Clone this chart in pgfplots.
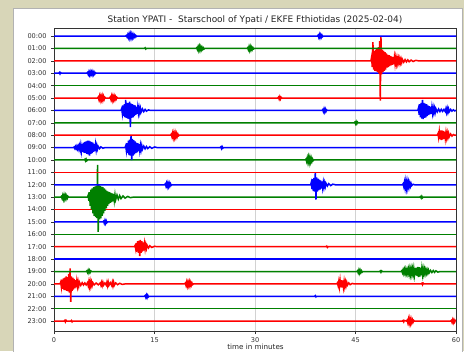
\documentclass[border=0pt]{standalone}
\usepackage{pgfplots}
\pgfplotsset{compat=1.18}
\usepackage{fontspec}
\setmainfont{DejaVu Sans}
\definecolor{bgbeige}{RGB}{216,214,184}
\definecolor{mplgreen}{RGB}{0,128,0}
\definecolor{mplblue}{RGB}{0,0,255}
\definecolor{mplred}{RGB}{255,0,0}
\pgfplotsset{trace/.style={line width=1.5bp}}
\begin{document}
\begin{tikzpicture}[x=1bp,y=1bp]
\useasboundingbox (0,0) rectangle (464,351);
\fill[bgbeige] (0,0) rectangle (464,351);
\filldraw[fill=white, draw=gray!60, line width=0.8bp] (13.5,-5) rectangle (462,343);
\begin{axis}[
  at={(54bp,20bp)}, anchor=south west,
  width=402bp, height=303bp, scale only axis,
  xmin=0, xmax=60, ymin=-0.65, ymax=23.8, y dir=reverse,
  xtick={0,15,30,45,60},
  ytick={0,...,23},
  yticklabels={00:00,01:00,02:00,03:00,04:00,05:00,06:00,07:00,08:00,09:00,10:00,11:00,12:00,13:00,14:00,15:00,16:00,17:00,18:00,19:00,20:00,21:00,22:00,23:00},
  tick pos=left, tick align=outside, major tick length=3bp,
  /pgf/number format/assume math mode=true,
  tick label style={font=\fontsize{6.6}{8}\selectfont, text=black!80},
  yticklabel style={xshift=-1bp},
  xmajorgrids, ymajorgrids=false,
  major grid style={gray!35, line width=0.7bp},
  axis line style={black!80, line width=0.7bp},
  every tick/.style={black!80, line width=0.6bp},
  clip=true,
]
% ---------- row 23 (red)
\addplot[mplred, trace] table[row sep=\\, x=t, y expr=23-\thisrow{a}] {t a\\ 0 0\\ 1.5 0\\ 1.6 0.05\\ 1.7 -0.07\\ 1.8 0.06\\ 1.9 0\\ 2.5 0\\ 2.6 0.05\\ 2.7 -0.06\\ 2.8 0\\ 52.0 0\\ 52.1 0.05\\ 52.2 -0.06\\ 52.3 0.05\\ 52.6 0\\ 52.7 0.08\\ 52.8 -0.13\\ 52.9 0.16\\ 53.0 -0.18\\ 53.1 0.18\\ 53.2 -0.17\\ 53.3 0.15\\ 53.4 -0.13\\ 53.5 0.1\\ 53.6 -0.08\\ 53.7 0.05\\ 53.8 0\\ 59.2 0\\ 59.3 0.06\\ 59.4 -0.1\\ 59.5 0.11\\ 59.6 -0.11\\ 59.7 0.1\\ 59.8 -0.08\\ 59.9 0.05\\ 60 0\\};
% ---------- row 22 (green)
\addplot[mplgreen, trace] coordinates {(0,22) (60,22)};
% ---------- row 21 (blue)
\addplot[mplblue, trace] table[row sep=\\, x=t, y expr=21-\thisrow{a}] {t a\\ 0 0\\ 13.5 0\\ 13.6 0.06\\ 13.7 -0.09\\ 13.8 0.1\\ 13.9 -0.1\\ 14.0 0.08\\ 14.1 -0.05\\ 14.2 0\\ 38.9 0\\ 39.0 0.05\\ 39.1 -0.05\\ 39.2 0\\ 60 0\\};
% ---------- row 20 (red)
\addplot[mplred, trace] table[row sep=\\, x=t, y expr=20-\thisrow{a}] {t a\\ 0 0\\ 0.9 0\\ 1.0 0.15\\ 1.1 -0.25\\ 1.2 0.35\\ 1.3 -0.4\\ 1.4 0.45\\ 1.5 -0.5\\ 1.6 0.5\\ 1.7 -0.5\\ 1.8 0.6\\ 1.9 -0.55\\ 2.0 0.55\\ 2.1 -0.6\\ 2.2 0.8\\ 2.3 -0.7\\ 2.4 1.25\\ 2.5 -1.45\\ 2.6 0.6\\ 2.7 -0.55\\ 2.8 0.5\\ 2.9 -0.45\\ 3.0 0.4\\ 3.1 -0.35\\ 3.2 0.3\\ 3.3 -0.27\\ 3.4 0.24\\ 3.5 -0.2\\ 3.6 0.18\\ 3.7 -0.16\\ 3.8 0.14\\ 4.0 -0.12\\ 4.2 0.1\\ 4.4 -0.09\\ 4.6 0.08\\ 4.8 -0.08\\ 5.0 0.1\\ 5.1 -0.14\\ 5.2 0.18\\ 5.3 -0.2\\ 5.4 0.2\\ 5.5 -0.18\\ 5.6 0.15\\ 5.7 -0.12\\ 5.8 0.1\\ 6.0 -0.08\\ 6.3 0.07\\ 6.6 -0.07\\ 6.9 0.08\\ 7.0 -0.1\\ 7.1 0.12\\ 7.2 -0.13\\ 7.3 0.12\\ 7.4 -0.1\\ 7.6 0.08\\ 7.8 -0.1\\ 7.9 0.14\\ 8.0 -0.15\\ 8.1 0.14\\ 8.2 -0.12\\ 8.4 0.1\\ 8.6 -0.12\\ 8.7 0.14\\ 8.8 -0.15\\ 8.9 0.14\\ 9.0 -0.12\\ 9.2 0.08\\ 9.5 -0.06\\ 9.8 0.05\\ 10.2 -0.04\\ 10.6 0\\ 19.5 0\\ 19.6 0.07\\ 19.7 -0.12\\ 19.8 0.15\\ 19.9 -0.16\\ 20.0 0.15\\ 20.1 -0.13\\ 20.2 0.16\\ 20.3 -0.15\\ 20.4 0.12\\ 20.5 -0.1\\ 20.6 0.07\\ 20.7 -0.05\\ 20.8 0\\ 42.2 0\\ 42.3 0.08\\ 42.4 -0.14\\ 42.5 0.2\\ 42.6 -0.24\\ 42.7 0.27\\ 42.8 -0.28\\ 42.9 0.3\\ 43.0 -0.3\\ 43.1 0.28\\ 43.2 -0.25\\ 43.3 0.22\\ 43.4 -0.2\\ 43.5 0.17\\ 43.6 -0.14\\ 43.7 0.12\\ 43.8 -0.1\\ 44.0 0.08\\ 44.2 -0.06\\ 44.5 0.04\\ 44.8 0\\ 54.8 0\\ 54.9 0.05\\ 55.0 -0.07\\ 55.1 0.06\\ 55.2 0\\ 60 0\\};
% ---------- row 19 (green)
\addplot[mplgreen, trace] table[row sep=\\, x=t, y expr=19-\thisrow{a}] {t a\\ 0 0\\ 4.8 0\\ 4.9 0.05\\ 5.0 -0.08\\ 5.1 0.1\\ 5.2 -0.1\\ 5.3 0.09\\ 5.4 -0.07\\ 5.5 0.05\\ 5.6 0\\ 45.2 0\\ 45.3 0.06\\ 45.4 -0.1\\ 45.5 0.12\\ 45.6 -0.12\\ 45.7 0.1\\ 45.8 -0.08\\ 45.9 0.06\\ 46.0 -0.05\\ 46.1 0\\ 48.6 0\\ 48.7 0.05\\ 48.8 -0.06\\ 48.9 0.05\\ 49.0 0\\ 51.8 0\\ 51.9 0.06\\ 52.0 -0.1\\ 52.1 0.12\\ 52.2 -0.14\\ 52.3 0.15\\ 52.4 -0.16\\ 52.5 0.16\\ 52.6 -0.15\\ 52.7 0.14\\ 52.8 -0.16\\ 52.9 0.18\\ 53.0 -0.2\\ 53.1 0.2\\ 53.2 -0.22\\ 53.3 0.22\\ 53.4 -0.2\\ 53.5 0.2\\ 53.6 -0.22\\ 53.7 0.24\\ 53.8 -0.26\\ 53.9 0.28\\ 54.0 -0.3\\ 54.1 0.3\\ 54.2 -0.35\\ 54.3 0.38\\ 54.4 -0.45\\ 54.5 0.35\\ 54.6 -0.4\\ 54.7 0.3\\ 54.8 -0.3\\ 54.9 0.25\\ 55.0 -0.25\\ 55.1 0.2\\ 55.2 -0.2\\ 55.3 0.17\\ 55.4 -0.16\\ 55.5 0.14\\ 55.6 -0.13\\ 55.7 0.12\\ 55.8 -0.12\\ 55.9 0.1\\ 56.0 -0.1\\ 56.2 0.09\\ 56.4 -0.08\\ 56.6 0.08\\ 56.8 -0.07\\ 57.0 0.06\\ 57.3 -0.05\\ 57.6 0\\ 60 0\\};
% ---------- row 18 (blue)
\addplot[mplblue, trace] coordinates {(0,18) (60,18)};
% ---------- row 17 (red)
\addplot[mplred, trace] table[row sep=\\, x=t, y expr=17-\thisrow{a}] {t a\\ 0 0\\ 12.0 0\\ 12.1 0.1\\ 12.2 -0.2\\ 12.3 0.3\\ 12.4 -0.4\\ 12.5 0.45\\ 12.6 -0.5\\ 12.7 0.5\\ 12.8 -0.75\\ 12.9 0.55\\ 13.0 -0.5\\ 13.1 0.45\\ 13.2 -0.4\\ 13.3 0.35\\ 13.4 -0.3\\ 13.5 0.25\\ 13.6 -0.2\\ 13.7 0.17\\ 13.8 -0.14\\ 13.9 0.12\\ 14.1 -0.1\\ 14.3 0.08\\ 14.6 -0.06\\ 15.0 0.04\\ 15.4 0\\ 40.6 0\\ 40.7 0.05\\ 40.8 -0.06\\ 40.9 0\\ 60 0\\};
% ---------- row 16 (green)
\addplot[mplgreen, trace] coordinates {(0,16) (60,16)};
% ---------- row 15 (blue)
\addplot[mplblue, trace] table[row sep=\\, x=t, y expr=15-\thisrow{a}] {t a\\ 0 0\\ 7.3 0\\ 7.4 0.06\\ 7.5 -0.1\\ 7.6 0.12\\ 7.7 -0.11\\ 7.8 0.09\\ 7.9 -0.06\\ 8.0 0\\ 60 0\\};
% ---------- row 14 (red)
\addplot[mplred, trace] coordinates {(0,14) (60,14)};
% ---------- row 13 (green)
\addplot[mplgreen, trace] table[row sep=\\, x=t, y expr=13-\thisrow{a}] {t a\\ 0 0\\ 1.0 0\\ 1.1 0.06\\ 1.2 -0.1\\ 1.3 0.13\\ 1.4 -0.15\\ 1.5 0.15\\ 1.6 -0.14\\ 1.7 0.13\\ 1.8 -0.12\\ 1.9 0.1\\ 2.0 -0.08\\ 2.1 0.06\\ 2.2 0\\ 5.0 0\\ 5.1 0.15\\ 5.2 -0.3\\ 5.3 0.4\\ 5.4 -0.7\\ 5.5 0.6\\ 5.6 -1.0\\ 5.7 0.7\\ 5.8 -1.3\\ 5.9 0.8\\ 6.0 -1.5\\ 6.1 0.85\\ 6.2 -1.6\\ 6.3 0.9\\ 6.4 -1.7\\ 6.5 2.6\\ 6.6 -2.8\\ 6.7 1.0\\ 6.8 -1.8\\ 6.9 0.9\\ 7.0 -1.7\\ 7.1 0.85\\ 7.2 -1.5\\ 7.3 0.8\\ 7.4 -1.3\\ 7.5 0.7\\ 7.6 -1.1\\ 7.7 0.6\\ 7.8 -0.9\\ 7.9 0.5\\ 8.0 -0.7\\ 8.1 0.45\\ 8.2 -0.55\\ 8.3 0.4\\ 8.4 -0.45\\ 8.5 0.35\\ 8.6 -0.4\\ 8.7 0.3\\ 8.8 -0.33\\ 8.9 0.25\\ 9.0 -0.27\\ 9.1 0.2\\ 9.2 -0.22\\ 9.4 0.17\\ 9.6 -0.16\\ 9.8 0.13\\ 10.0 -0.12\\ 10.3 0.1\\ 10.6 -0.08\\ 11.0 0.06\\ 11.4 -0.04\\ 11.8 0\\ 54.6 0\\ 54.7 0.05\\ 54.8 -0.07\\ 54.9 0.07\\ 55.0 -0.05\\ 55.1 0\\ 60 0\\};
% ---------- row 12 (blue)
\addplot[mplblue, trace] table[row sep=\\, x=t, y expr=12-\thisrow{a}] {t a\\ 0 0\\ 16.5 0\\ 16.6 0.07\\ 16.7 -0.1\\ 16.8 0.13\\ 16.9 -0.14\\ 17.0 0.14\\ 17.1 -0.13\\ 17.2 0.12\\ 17.3 -0.1\\ 17.4 0.08\\ 17.5 -0.05\\ 17.6 0\\ 38.3 0\\ 38.4 0.2\\ 38.5 -0.35\\ 38.6 0.45\\ 38.7 -0.5\\ 38.8 0.55\\ 38.9 -0.55\\ 39.0 1.0\\ 39.1 -1.2\\ 39.2 0.6\\ 39.3 -0.55\\ 39.4 0.5\\ 39.5 -0.45\\ 39.6 0.42\\ 39.7 -0.38\\ 39.8 0.35\\ 39.9 -0.3\\ 40.0 0.27\\ 40.1 -0.24\\ 40.2 0.2\\ 40.3 -0.18\\ 40.4 0.16\\ 40.5 -0.14\\ 40.6 0.12\\ 40.8 -0.1\\ 41.0 0.09\\ 41.3 -0.07\\ 41.6 0.05\\ 42.0 0\\ 52.0 0\\ 52.1 0.08\\ 52.2 -0.14\\ 52.3 0.2\\ 52.4 -0.24\\ 52.5 0.26\\ 52.6 -0.25\\ 52.7 0.24\\ 52.8 -0.22\\ 52.9 0.2\\ 53.0 -0.17\\ 53.1 0.14\\ 53.2 -0.12\\ 53.3 0.1\\ 53.4 -0.07\\ 53.6 0.04\\ 53.8 0\\ 60 0\\};
% ---------- row 11 (red)
\addplot[mplred, trace] coordinates {(0,11) (60,11)};
% ---------- row 10 (green)
\addplot[mplgreen, trace] table[row sep=\\, x=t, y expr=10-\thisrow{a}] {t a\\ 0 0\\ 4.5 0\\ 4.6 0.05\\ 4.7 -0.07\\ 4.8 0.07\\ 4.9 -0.06\\ 5.0 0\\ 37.5 0\\ 37.6 0.07\\ 37.7 -0.12\\ 37.8 0.16\\ 37.9 -0.18\\ 38.0 0.2\\ 38.1 -0.19\\ 38.2 0.18\\ 38.3 -0.16\\ 38.4 0.14\\ 38.5 -0.11\\ 38.6 0.08\\ 38.7 -0.05\\ 38.8 0\\ 60 0\\};
% ---------- row 09 (blue)
\addplot[mplblue, trace] table[row sep=\\, x=t, y expr=9-\thisrow{a}] {t a\\ 0 0\\ 2.9 0\\ 3.0 0.05\\ 3.1 -0.07\\ 3.2 0.08\\ 3.3 -0.08\\ 3.4 0.1\\ 3.5 -0.1\\ 3.6 0.12\\ 3.7 -0.12\\ 3.8 0.15\\ 3.9 -0.18\\ 4.0 0.22\\ 4.1 -0.25\\ 4.2 0.3\\ 4.3 -0.35\\ 4.4 0.4\\ 4.5 -0.42\\ 4.6 0.45\\ 4.7 -0.45\\ 4.8 0.5\\ 4.9 -0.5\\ 5.0 0.55\\ 5.1 -0.55\\ 5.2 0.55\\ 5.3 -0.65\\ 5.4 0.5\\ 5.5 -0.5\\ 5.6 0.45\\ 5.7 -0.45\\ 5.8 0.4\\ 5.9 -0.35\\ 6.0 0.3\\ 6.1 -0.28\\ 6.2 0.25\\ 6.3 -0.2\\ 6.4 0.16\\ 6.5 -0.12\\ 6.6 0.1\\ 6.8 -0.08\\ 7.0 0.06\\ 7.3 -0.05\\ 7.6 0\\ 10.6 0\\ 10.7 0.15\\ 10.8 -0.25\\ 10.9 0.35\\ 11.0 -0.45\\ 11.1 0.55\\ 11.2 -0.6\\ 11.3 0.65\\ 11.4 -0.65\\ 11.5 1.0\\ 11.6 -1.0\\ 11.7 0.7\\ 11.8 -0.65\\ 11.9 0.6\\ 12.0 -0.55\\ 12.1 0.5\\ 12.2 -0.45\\ 12.3 0.4\\ 12.4 -0.38\\ 12.5 0.35\\ 12.6 -0.3\\ 12.7 0.27\\ 12.8 -0.24\\ 12.9 0.2\\ 13.0 -0.18\\ 13.1 0.16\\ 13.2 -0.14\\ 13.4 0.12\\ 13.6 -0.1\\ 13.8 0.09\\ 14.0 -0.08\\ 14.3 0.07\\ 14.6 -0.06\\ 15.0 0.05\\ 15.4 0\\ 24.8 0\\ 24.9 0.06\\ 25.0 -0.08\\ 25.1 0.07\\ 25.2 -0.05\\ 25.3 0\\ 60 0\\};
% ---------- row 08 (red)
\addplot[mplred, trace] table[row sep=\\, x=t, y expr=8-\thisrow{a}] {t a\\ 0 0\\ 17.4 0\\ 17.5 0.08\\ 17.6 -0.12\\ 17.7 0.16\\ 17.8 -0.18\\ 17.9 0.18\\ 18.0 -0.17\\ 18.1 0.16\\ 18.2 -0.15\\ 18.3 0.13\\ 18.4 -0.1\\ 18.5 0.08\\ 18.6 -0.05\\ 18.7 0\\ 57.2 0\\ 57.3 0.12\\ 57.4 -0.2\\ 57.5 0.28\\ 57.6 -0.32\\ 57.7 0.38\\ 57.8 -0.4\\ 57.9 0.38\\ 58.0 -0.36\\ 58.1 0.34\\ 58.2 -0.3\\ 58.3 0.28\\ 58.4 -0.25\\ 58.5 0.22\\ 58.6 -0.2\\ 58.7 0.18\\ 58.8 -0.16\\ 58.9 0.14\\ 59.0 -0.12\\ 59.2 0.1\\ 59.4 -0.07\\ 59.6 0.05\\ 59.8 0\\ 60 0\\};
% ---------- row 07 (green)
\addplot[mplgreen, trace] table[row sep=\\, x=t, y expr=7-\thisrow{a}] {t a\\ 0 0\\ 44.8 0\\ 44.9 0.05\\ 45.0 -0.08\\ 45.1 0.09\\ 45.2 -0.08\\ 45.3 0.06\\ 45.4 0\\ 60 0\\};
% ---------- row 06 (blue)
\addplot[mplblue, trace] table[row sep=\\, x=t, y expr=6-\thisrow{a}] {t a\\ 0 0\\ 10.0 0\\ 10.1 0.15\\ 10.2 -0.25\\ 10.3 0.4\\ 10.4 -0.45\\ 10.5 0.5\\ 10.6 -0.55\\ 10.7 0.85\\ 10.8 -0.6\\ 10.9 0.6\\ 11.0 -0.65\\ 11.1 0.6\\ 11.2 -0.7\\ 11.3 0.7\\ 11.4 -1.35\\ 11.5 0.55\\ 11.6 -0.6\\ 11.7 0.5\\ 11.8 -0.55\\ 11.9 0.45\\ 12.0 -0.45\\ 12.1 0.4\\ 12.2 -0.35\\ 12.3 0.3\\ 12.4 -0.28\\ 12.5 0.25\\ 12.6 -0.22\\ 12.7 0.2\\ 12.8 -0.18\\ 12.9 0.16\\ 13.0 -0.14\\ 13.2 0.12\\ 13.4 -0.1\\ 13.6 0.08\\ 13.8 -0.06\\ 14.1 0.04\\ 14.4 0\\ 40.0 0\\ 40.1 0.06\\ 40.2 -0.1\\ 40.3 0.12\\ 40.4 -0.12\\ 40.5 0.1\\ 40.6 -0.08\\ 40.7 0.05\\ 40.8 0\\ 54.3 0\\ 54.4 0.2\\ 54.5 -0.35\\ 54.6 0.5\\ 54.7 -0.55\\ 54.8 0.6\\ 54.9 -0.65\\ 55.0 0.85\\ 55.1 -0.7\\ 55.2 0.6\\ 55.3 -0.6\\ 55.4 0.55\\ 55.5 -0.55\\ 55.6 0.5\\ 55.7 -0.45\\ 55.8 0.4\\ 55.9 -0.38\\ 56.0 0.35\\ 56.1 -0.32\\ 56.2 0.3\\ 56.3 -0.27\\ 56.4 0.25\\ 56.5 -0.22\\ 56.6 0.2\\ 56.7 -0.18\\ 56.8 0.17\\ 56.9 -0.15\\ 57.0 0.14\\ 57.2 -0.12\\ 57.4 0.11\\ 57.6 -0.1\\ 57.8 0.09\\ 58.0 -0.08\\ 58.2 0.08\\ 58.4 -0.1\\ 58.5 0.14\\ 58.6 -0.16\\ 58.7 0.15\\ 58.8 -0.14\\ 58.9 0.12\\ 59.0 -0.1\\ 59.2 0.08\\ 59.4 -0.06\\ 59.6 0.05\\ 59.8 -0.04\\ 60 0\\};
% ---------- row 05 (red)
\addplot[mplred, trace] table[row sep=\\, x=t, y expr=5-\thisrow{a}] {t a\\ 0 0\\ 6.5 0\\ 6.6 0.08\\ 6.7 -0.12\\ 6.8 0.15\\ 6.9 -0.16\\ 7.0 0.15\\ 7.1 -0.14\\ 7.2 0.16\\ 7.3 -0.15\\ 7.4 0.12\\ 7.5 -0.1\\ 7.6 0.06\\ 7.7 0\\ 8.3 0\\ 8.4 0.08\\ 8.5 -0.12\\ 8.6 0.15\\ 8.7 -0.16\\ 8.8 0.15\\ 8.9 -0.14\\ 9.0 0.13\\ 9.1 -0.12\\ 9.2 0.1\\ 9.3 -0.08\\ 9.4 0.05\\ 9.5 0\\ 33.4 0\\ 33.5 0.07\\ 33.6 -0.09\\ 33.7 0.1\\ 33.8 -0.08\\ 33.9 0.06\\ 34.0 0\\ 60 0\\};
% ---------- row 04 (green)
\addplot[mplgreen, trace] coordinates {(0,4) (60,4)};
% ---------- row 03 (blue)
\addplot[mplblue, trace] table[row sep=\\, x=t, y expr=3-\thisrow{a}] {t a\\ 0 0\\ 0.7 0\\ 0.8 0.06\\ 0.9 -0.06\\ 1.0 0.05\\ 1.1 0\\ 4.9 0\\ 5.0 0.06\\ 5.1 -0.09\\ 5.2 0.11\\ 5.3 -0.12\\ 5.4 0.12\\ 5.5 -0.11\\ 5.6 0.1\\ 5.7 -0.11\\ 5.8 0.12\\ 5.9 -0.1\\ 6.0 0.08\\ 6.1 -0.06\\ 6.2 0.04\\ 6.3 0\\ 60 0\\};
% ---------- row 02 (red)
\addplot[mplred, trace] table[row sep=\\, x=t, y expr=2-\thisrow{a}] {t a\\ 0 0\\ 47.3 0\\ 47.4 0.3\\ 47.5 -0.5\\ 47.6 1.5\\ 47.7 -0.7\\ 47.8 0.8\\ 47.9 -0.8\\ 48.0 0.9\\ 48.1 -0.85\\ 48.2 0.95\\ 48.3 -0.9\\ 48.4 1.1\\ 48.5 -1.0\\ 48.6 1.6\\ 48.7 -3.2\\ 48.8 1.95\\ 48.9 -1.1\\ 49.0 0.9\\ 49.1 -0.9\\ 49.2 0.8\\ 49.3 -0.8\\ 49.4 0.7\\ 49.5 -0.7\\ 49.6 0.6\\ 49.7 -0.55\\ 49.8 0.5\\ 49.9 -0.5\\ 50.0 0.45\\ 50.1 -0.42\\ 50.2 0.4\\ 50.3 -0.37\\ 50.4 0.35\\ 50.5 -0.32\\ 50.6 0.3\\ 50.7 -0.28\\ 50.8 0.27\\ 50.9 -0.25\\ 51.0 0.24\\ 51.1 -0.22\\ 51.2 0.2\\ 51.3 -0.19\\ 51.4 0.18\\ 51.5 -0.17\\ 51.6 0.16\\ 51.7 -0.15\\ 51.8 0.14\\ 51.9 -0.13\\ 52.0 0.12\\ 52.2 -0.11\\ 52.4 0.1\\ 52.6 -0.09\\ 52.8 0.08\\ 53.0 -0.07\\ 53.3 0.06\\ 53.6 -0.05\\ 54.0 0.04\\ 54.4 0\\ 60 0\\};
% ---------- row 01 (green)
\addplot[mplgreen, trace] table[row sep=\\, x=t, y expr=1-\thisrow{a}] {t a\\ 0 0\\ 13.5 0\\ 13.6 0.05\\ 13.7 -0.05\\ 13.8 0\\ 21.2 0\\ 21.3 0.06\\ 21.4 -0.09\\ 21.5 0.12\\ 21.6 -0.14\\ 21.7 0.15\\ 21.8 -0.13\\ 21.9 0.12\\ 22.0 -0.1\\ 22.1 0.09\\ 22.2 -0.07\\ 22.3 0.05\\ 22.4 -0.04\\ 22.5 0\\ 28.8 0\\ 28.9 0.06\\ 29.0 -0.1\\ 29.1 0.13\\ 29.2 -0.14\\ 29.3 0.13\\ 29.4 -0.11\\ 29.5 0.1\\ 29.6 -0.08\\ 29.7 0.06\\ 29.8 -0.04\\ 29.9 0\\ 60 0\\};
% ---------- row 00 (blue)
\addplot[mplblue, trace] table[row sep=\\, x=t, y expr=0-\thisrow{a}] {t a\\ 0 0\\ 10.7 0\\ 10.8 0.05\\ 10.9 -0.07\\ 11.0 0.1\\ 11.1 -0.12\\ 11.2 0.15\\ 11.3 -0.14\\ 11.4 0.16\\ 11.5 -0.15\\ 11.6 0.14\\ 11.7 -0.12\\ 11.8 0.12\\ 11.9 -0.1\\ 12.0 0.08\\ 12.1 -0.07\\ 12.2 0.05\\ 12.3 -0.04\\ 12.4 0\\ 39.3 0\\ 39.4 0.06\\ 39.5 -0.1\\ 39.6 0.12\\ 39.7 -0.12\\ 39.8 0.1\\ 39.9 -0.09\\ 40.0 0.07\\ 40.1 -0.05\\ 40.2 0\\ 60 0\\};
\end{axis}
\node[text=black!85, font=\fontsize{9}{11}\selectfont] at (255,331) {Station YPATI -\space\space Starschool of Ypati / EKFE Fthiotidas (2025-02-04)};
\node[text=black!85, font=\fontsize{7.2}{9}\selectfont, anchor=base, inner sep=0pt] at (255.5,1.6) {time in minutes};
\end{tikzpicture}
\end{document}
